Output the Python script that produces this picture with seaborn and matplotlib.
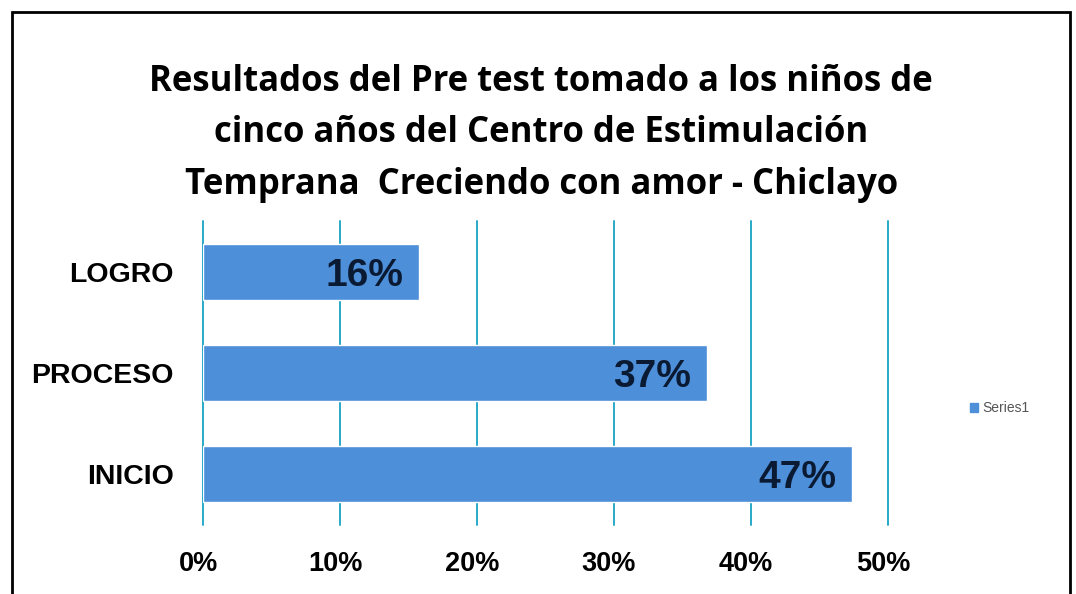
import matplotlib
matplotlib.use("Agg")
import matplotlib.pyplot as plt
from matplotlib.patches import Rectangle, Patch
from matplotlib.transforms import ScaledTranslation
import seaborn as sns
import pandas as pd

categories = ["LOGRO", "PROCESO", "INICIO"]
values = [0.158, 0.368, 0.474]
value_labels = ["16%", "37%", "47%"]
x_ticks = [0.0, 0.1, 0.2, 0.3, 0.4, 0.5]
x_tick_labels = ["0%", "10%", "20%", "30%", "40%", "50%"]
series_name = "Series1"
title = ("Resultados del Pre test tomado a los niños de\n"
         "cinco años del Centro de Estimulación\n"
         "Temprana  Creciendo con amor - Chiclayo")

df = pd.DataFrame({"categoria": categories, "valor": values})

sns.set_theme(style="white")
plt.rcParams["font.family"] = ["Liberation Sans", "DejaVu Sans"]

fig = plt.figure(figsize=(10.76, 5.94), dpi=100)
ax = fig.add_axes([0.1887, 0.1162, 0.6366, 0.5118])

sns.barplot(
    data=df,
    x="valor",
    y="categoria",
    orient="h",
    color="#4d8fd9",
    width=0.55,
    saturation=1,
    ax=ax,
)

for i, (v, lab) in enumerate(zip(values, value_labels)):
    ax.text(v - 0.012, i, lab, ha="right", va="center_baseline",
            fontsize=28, fontweight="bold", color="#0b1a33")

ax.set_xlim(0, 0.5)
ax.set_xticks(x_ticks)
ax.set_xticklabels(x_tick_labels, fontsize=19.5, fontweight="bold", color="black")
ax.set_yticklabels(categories, fontsize=20.5, fontweight="bold", color="black")
ax.tick_params(axis="x", pad=19, length=0)
ax.tick_params(axis="y", pad=21, length=0)
shift = ScaledTranslation(-0.05, 0, fig.dpi_scale_trans)
for lbl in ax.get_xticklabels():
    lbl.set_transform(lbl.get_transform() + shift)
ax.set_xlabel("")
ax.set_ylabel("")
ax.set_axisbelow(True)
ax.grid(axis="x", color="#2aa9c9", linewidth=1.4)
ax.grid(axis="y", visible=False)
for g in ax.get_xgridlines():
    g.set_clip_on(False)
for s in ax.spines.values():
    s.set_visible(False)

fig.text(0.503, 0.893, title, ha="center", va="top", fontsize=25,
         fontweight="bold", family=["Open Sans", "DejaVu Sans"],
         color="black", linespacing=1.58)

fig.legend(handles=[Patch(color="#4d8fd9", label=series_name)],
           loc="center left", bbox_to_anchor=(0.89, 0.313), frameon=False,
           fontsize=10, handlelength=0.6, handleheight=0.6,
           handletextpad=0.3, labelcolor="#555555")

fig.patches.append(Rectangle((0.011, -0.01), 0.983, 0.99,
                             transform=fig.transFigure, fill=False,
                             edgecolor="black", linewidth=2))

fig.savefig("out.png", dpi=100)
plt.close(fig)
